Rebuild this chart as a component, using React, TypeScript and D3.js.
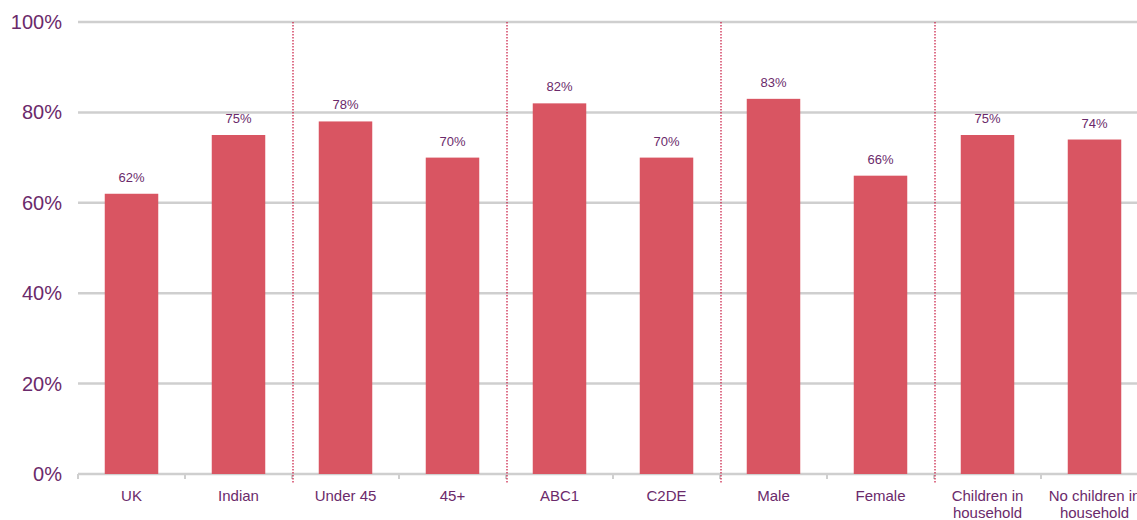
import * as React from 'react';
import * as d3 from 'd3';

const categories = [
  'UK',
  'Indian',
  'Under 45',
  '45+',
  'ABC1',
  'C2DE',
  'Male',
  'Female',
  'Children in household',
  'No children in household',
];
const values = [62, 75, 78, 70, 82, 70, 83, 66, 75, 74];
const yTicks = [0, 20, 40, 60, 80, 100];
// groups are split after these category indexes
const groupBreaks = [2, 4, 6, 8];

const W = 1137;
const H = 520;
const margin = { top: 22, right: -11, bottom: 46, left: 78 };
const textColor = '#6b2a6b';
const barColor = '#d95562';

function wrapLabel(label: string): string[] {
  if (label.length < 12) return [label];
  const words = label.split(' ');
  const last = words.pop() as string;
  return [words.join(' '), last];
}

export default function App() {
  const ref = React.useRef<SVGSVGElement>(null);

  React.useEffect(() => {
    const svg = d3.select(ref.current);
    svg.selectAll('*').remove();

    const innerW = W - margin.left - margin.right;
    const innerH = H - margin.top - margin.bottom;

    const x = d3
      .scaleBand<string>()
      .domain(categories)
      .range([0, innerW])
      .paddingInner(0.5)
      .paddingOuter(0.25);
    const step = x.step();
    const y = d3.scaleLinear().domain([0, 100]).range([innerH, 0]);

    const g = svg
      .append('g')
      .attr('transform', 'translate(' + margin.left + ',' + margin.top + ')');

    // gridlines
    g.selectAll('line.grid')
      .data(yTicks)
      .enter()
      .append('line')
      .attr('x1', 0)
      .attr('x2', innerW)
      .attr('y1', (d) => y(d))
      .attr('y2', (d) => y(d))
      .attr('stroke', '#cfcfcf')
      .attr('stroke-width', 2.5);

    // x tick marks at band boundaries
    g.selectAll('line.xtick')
      .data(d3.range(categories.length + 1))
      .enter()
      .append('line')
      .attr('x1', (i) => i * step)
      .attr('x2', (i) => i * step)
      .attr('y1', innerH)
      .attr('y2', innerH + 5)
      .attr('stroke', '#cfcfcf')
      .attr('stroke-width', 2);

    // y labels
    g.selectAll('text.ylab')
      .data(yTicks)
      .enter()
      .append('text')
      .attr('x', -16)
      .attr('y', (d) => y(d))
      .attr('dy', '0.35em')
      .attr('text-anchor', 'end')
      .attr('fill', textColor)
      .style('font-size', '20px')
      .text((d) => d + '%');

    // bars
    g.selectAll('rect.bar')
      .data(values)
      .enter()
      .append('rect')
      .attr('x', (_d, i) => x(categories[i]) as number)
      .attr('y', (d) => y(d))
      .attr('width', x.bandwidth())
      .attr('height', (d) => innerH - y(d))
      .attr('fill', barColor);

    // value labels
    g.selectAll('text.val')
      .data(values)
      .enter()
      .append('text')
      .attr('x', (_d, i) => (x(categories[i]) as number) + x.bandwidth() / 2)
      .attr('y', (d) => y(d) - 12)
      .attr('text-anchor', 'middle')
      .attr('fill', textColor)
      .style('font-size', '13px')
      .text((d) => d + '%');

    // category labels
    categories.forEach((c, i) => {
      const cx = (x(c) as number) + x.bandwidth() / 2;
      const t = g
        .append('text')
        .attr('x', cx)
        .attr('y', innerH + 27)
        .attr('text-anchor', 'middle')
        .attr('fill', textColor)
        .style('font-size', '15px');
      wrapLabel(c).forEach((line, k) => {
        t.append('tspan')
          .attr('x', cx)
          .attr('dy', k === 0 ? 0 : 17)
          .text(line);
      });
    });

    // group separators
    g.selectAll('line.sep')
      .data(groupBreaks)
      .enter()
      .append('line')
      .attr('x1', (b) => b * step + 1)
      .attr('x2', (b) => b * step + 1)
      .attr('y1', 0)
      .attr('y2', innerH + 10)
      .attr('stroke', '#c8173f')
      .attr('stroke-width', 1.2)
      .attr('stroke-dasharray', '1.5,1.5');
  }, []);

  return (
    <svg
      ref={ref}
      width={W}
      height={H}
      style={{
        position: 'absolute',
        left: 0,
        top: 0,
        fontFamily: 'Liberation Sans, Arial, sans-serif',
        background: '#fff',
      }}
    />
  );
}
